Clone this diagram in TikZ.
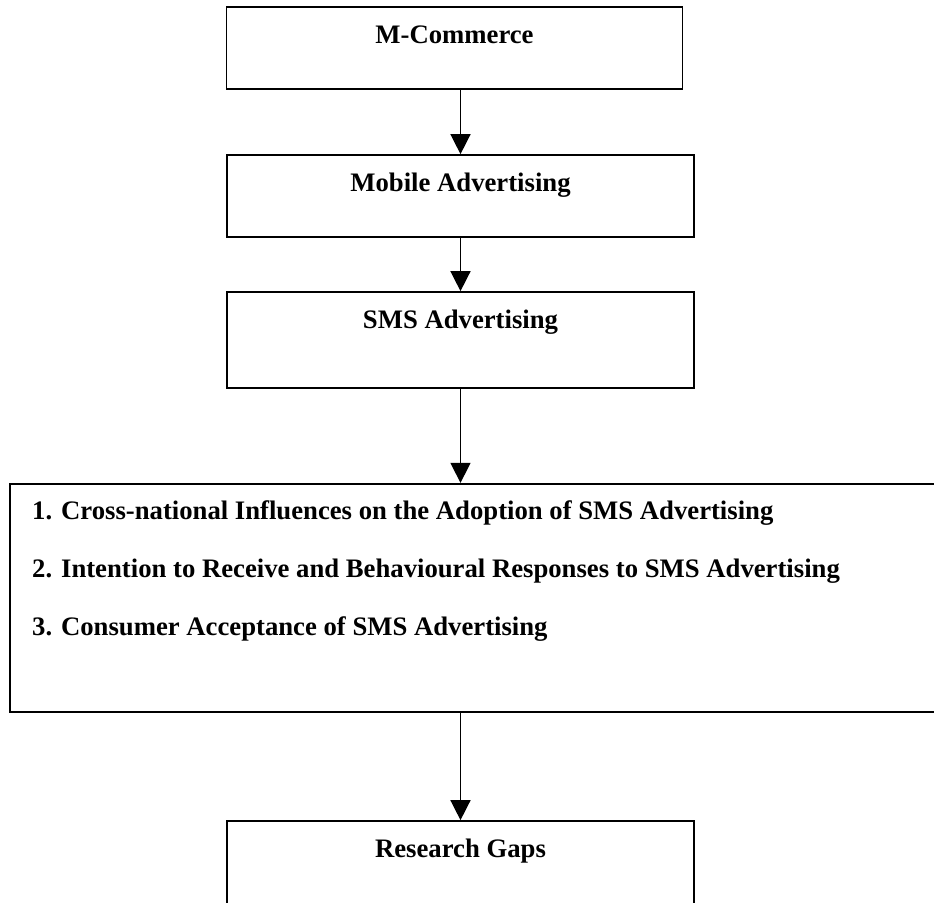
\documentclass[tikz,border=0pt]{standalone}
\usepackage{fontspec}
\setmainfont{Liberation Serif}
\usetikzlibrary{arrows.meta}
\begin{document}
\begin{tikzpicture}[x=1bp,y=-1bp,
  box/.style={draw, line width=1.7bp, inner sep=0pt},
  lbl/.style={font=\fontsize{26.8}{32}\selectfont\bfseries, inner sep=0pt, anchor=base},
  item/.style={font=\fontsize{26.8}{32}\selectfont\bfseries, inner sep=0pt, anchor=base west},
  conn/.style={line width=1.5bp, -{Triangle[length=20bp,width=20bp]}}]
\useasboundingbox (0,0) rectangle (934,903);
\clip (0,0) rectangle (934,903);
% boxes
\node[box, minimum width=456bp, minimum height=82bp] (b1) at (454.5,48) {};
\node[box, minimum width=467bp, minimum height=82bp] (b2) at (460.5,196) {};
\node[box, minimum width=467bp, minimum height=96bp] (b3) at (460.5,340) {};
\node[box, line width=2.3bp, minimum width=940bp, minimum height=228bp] (b4) at (480,598) {};
\node[box, minimum width=467bp, minimum height=100bp] (b5) at (460.5,871) {};
% texts
\node[lbl] (t1) at (454.5,43) {M-Commerce};
\node[lbl] (t2) at (460.5,191) {Mobile Advertising};
\node[lbl] (t3) at (460.5,328) {SMS Advertising};
\node[item] (i1) at (32,519) {1. Cross-national Influences on the Adoption of SMS Advertising};
\node[item] (i2) at (32,577) {2. Intention to Receive and Behavioural Responses to SMS Advertising};
\node[item] (i3) at (32,635) {3. Consumer Acceptance of SMS Advertising};
\node[lbl] (t5) at (460.5,857) {Research Gaps};
% connectors
\draw[conn] (b2.north |- b1.south) -- (b2.north);
\draw[conn] (b2.south) -- (b3.north);
\draw[conn] (b3.south) -- (b3.south |- b4.north);
\draw[conn] (b5.north |- b4.south) -- (b5.north);
\end{tikzpicture}
\end{document}
